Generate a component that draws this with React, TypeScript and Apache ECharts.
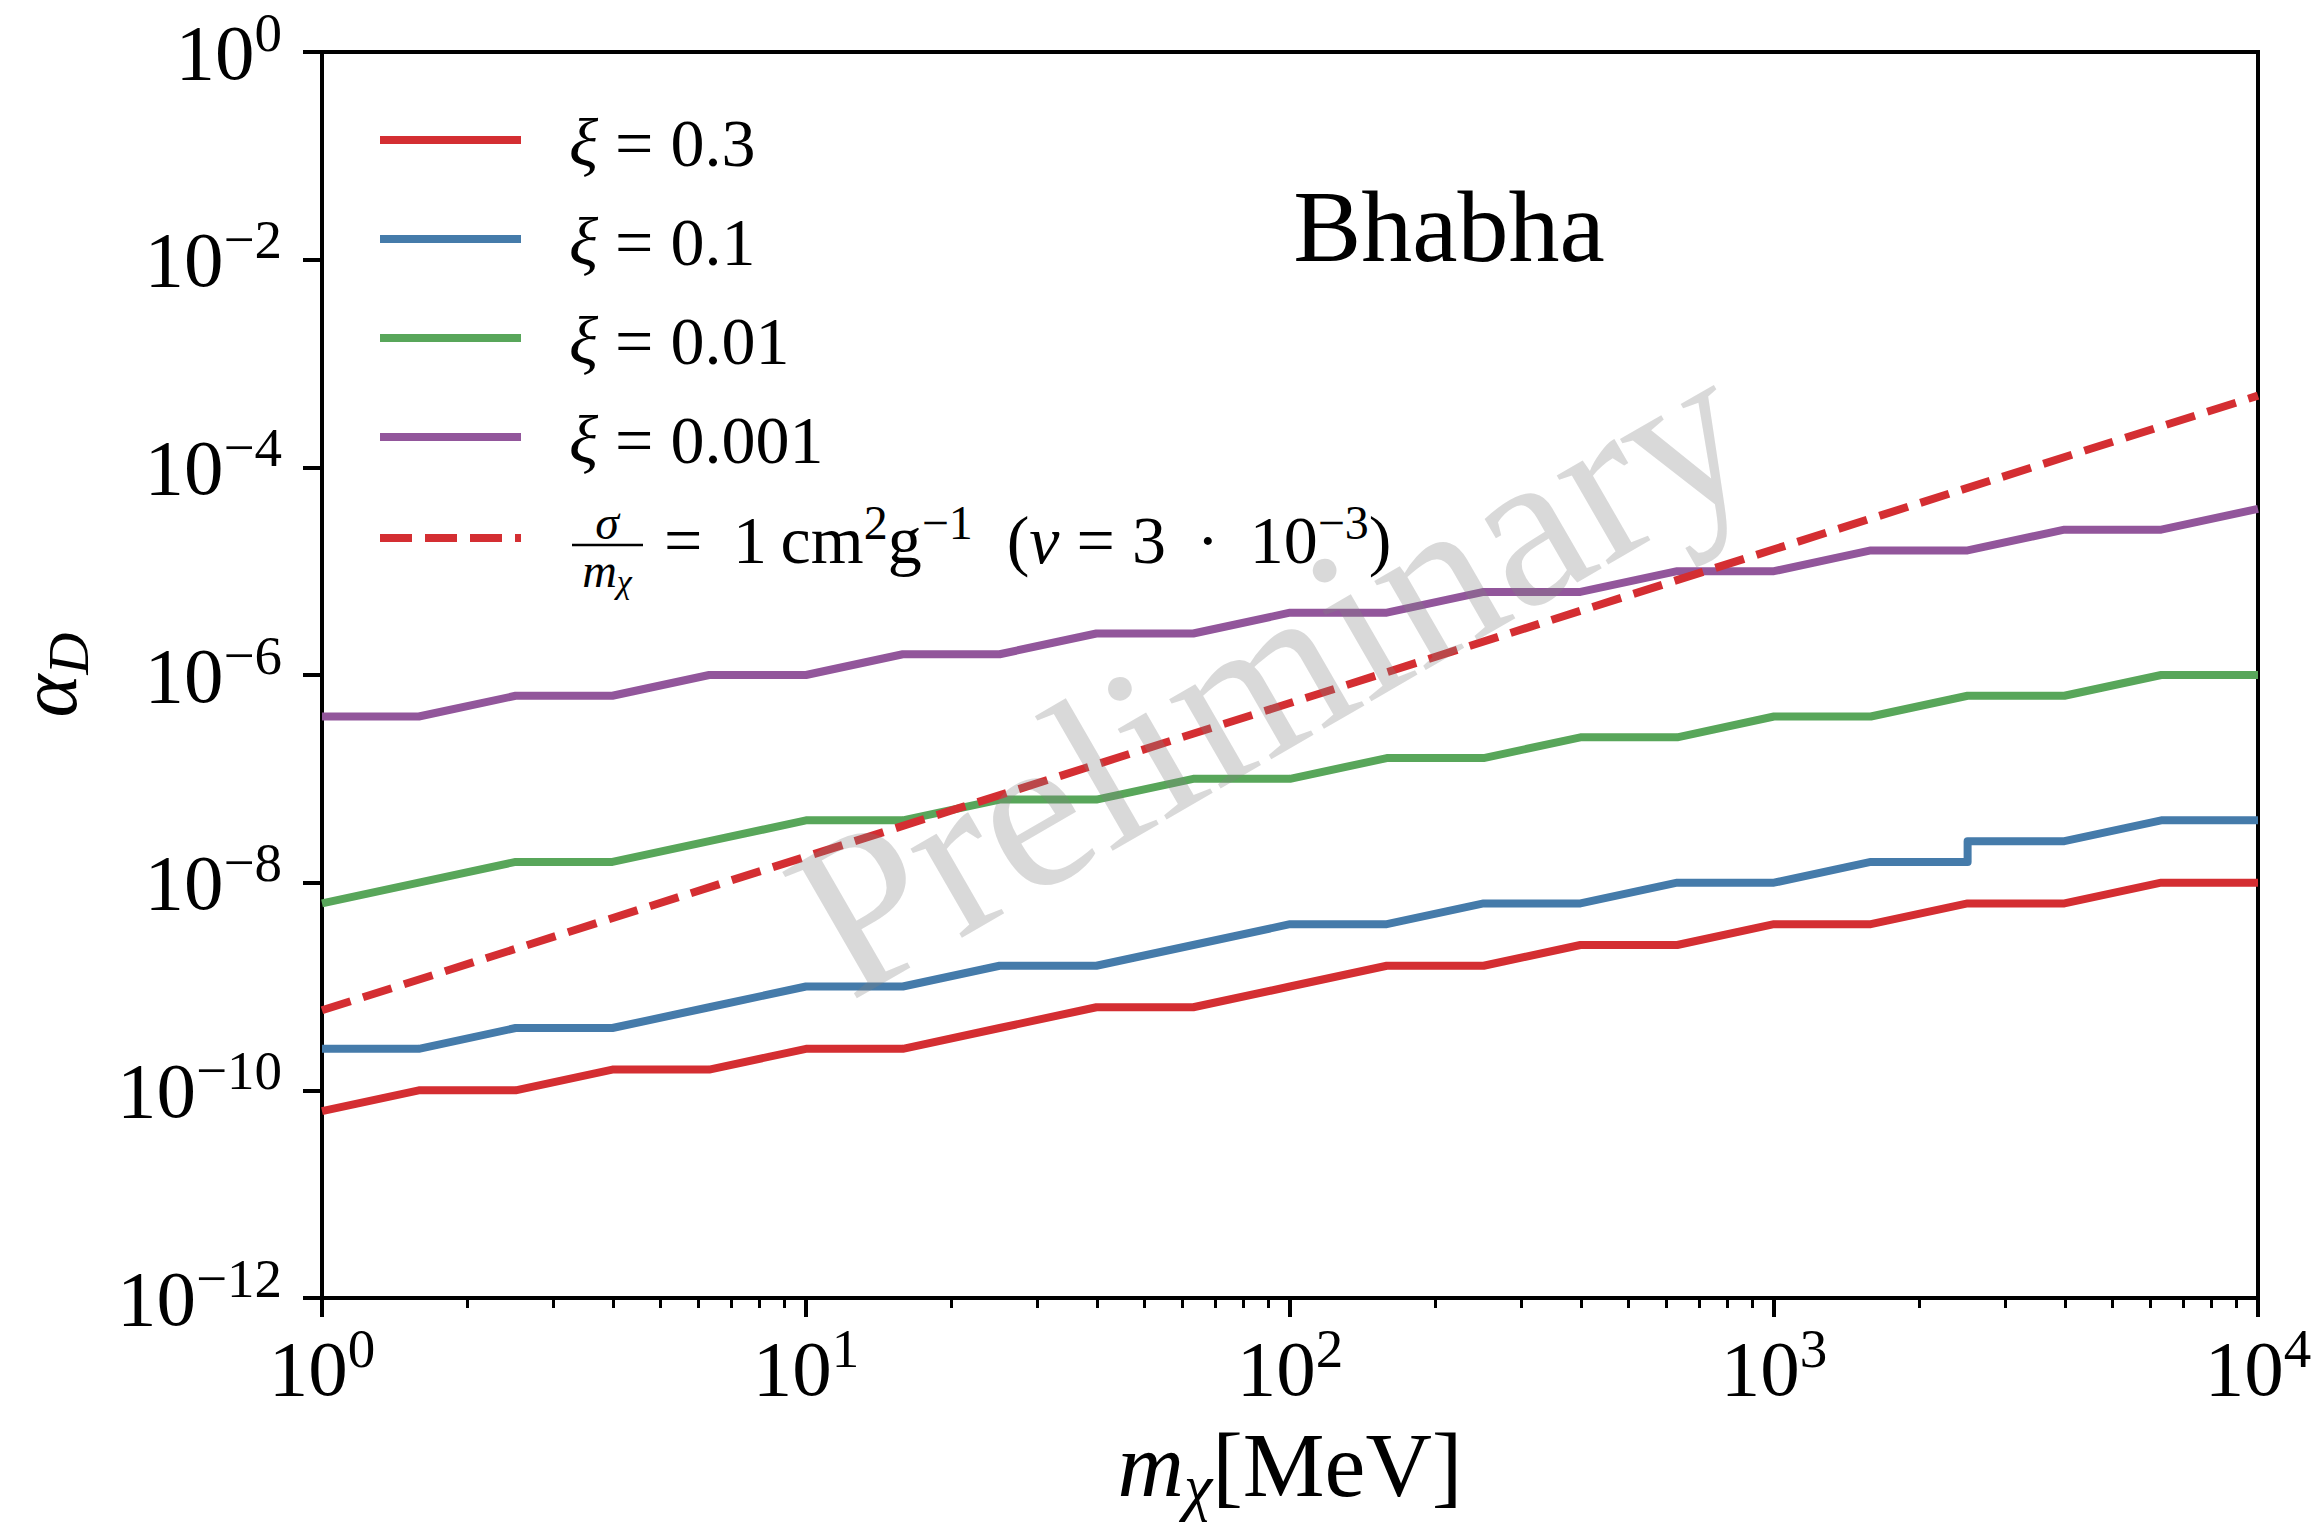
import React, { useEffect, useRef } from "react";
import * as echarts from "echarts";

const FONT = "'Liberation Serif', 'DejaVu Serif', serif";

// Dark-matter mass grid in MeV (five points per decade)
const massMeV = [
  1, 1.585, 2.512, 3.981, 6.31, 10, 15.85, 25.12, 39.81, 63.1, 100, 158.5, 251.2,
  398.1, 631, 1000, 1585, 2512, 3981, 6310, 10000,
];
// The ξ = 0.1 curve jumps at 2512 MeV, so that mass appears twice
const massMeVXi01 = [
  1, 1.585, 2.512, 3.981, 6.31, 10, 15.85, 25.12, 39.81, 63.1, 100, 158.5, 251.2,
  398.1, 631, 1000, 1585, 2512, 2512, 3981, 6310, 10000,
];

// Upper bounds on alpha_D for each temperature ratio ξ
const alphaXi03 = [
  6.31e-11, 1e-10, 1e-10, 1.585e-10, 1.585e-10, 2.512e-10, 2.512e-10, 3.981e-10,
  6.31e-10, 6.31e-10, 1e-9, 1.585e-9, 1.585e-9, 2.512e-9, 2.512e-9, 3.981e-9,
  3.981e-9, 6.31e-9, 6.31e-9, 1e-8, 1e-8,
];
const alphaXi01 = [
  2.512e-10, 2.512e-10, 3.981e-10, 3.981e-10, 6.31e-10, 1e-9, 1e-9, 1.585e-9,
  1.585e-9, 2.512e-9, 3.981e-9, 3.981e-9, 6.31e-9, 6.31e-9, 1e-8, 1e-8, 1.585e-8,
  1.585e-8, 2.512e-8, 2.512e-8, 3.981e-8, 3.981e-8,
];
const alphaXi001 = [
  6.31e-9, 1e-8, 1.585e-8, 1.585e-8, 2.512e-8, 3.981e-8, 3.981e-8, 6.31e-8, 6.31e-8,
  1e-7, 1e-7, 1.585e-7, 1.585e-7, 2.512e-7, 2.512e-7, 3.981e-7, 3.981e-7, 6.31e-7,
  6.31e-7, 1e-6, 1e-6,
];
const alphaXi0001 = [
  3.981e-7, 3.981e-7, 6.31e-7, 6.31e-7, 1e-6, 1e-6, 1.585e-6, 1.585e-6, 2.512e-6,
  2.512e-6, 3.981e-6, 3.981e-6, 6.31e-6, 6.31e-6, 1e-5, 1e-5, 1.585e-5, 1.585e-5,
  2.512e-5, 2.512e-5, 3.981e-5,
];

// σ/m_χ = 1 cm²/g at v = 3·10⁻³ (straight line in log-log)
const selfInteractionMass = [1, 10000];
const selfInteractionAlpha = [5.9e-10, 4.9e-4];

// Tick positions
const xMajorTicks = [1, 10, 100, 1000, 10000];
const xMinorTicks = [
  2, 3, 4, 5, 6, 7, 8, 9, 20, 30, 40, 50, 60, 70, 80, 90, 200, 300, 400, 500, 600,
  700, 800, 900, 2000, 3000, 4000, 5000, 6000, 7000, 8000, 9000,
];
const yMajorTicks = [1e-12, 1e-10, 1e-8, 1e-6, 1e-4, 1e-2, 1];

const xiLabels = ["0.3", "0.1", "0.01", "0.001"];
const colors = ["#d42e32", "#457baa", "#58a65a", "#92569b"];

const GRID = { left: 322, top: 52, width: 1936, height: 1246 };

const powerLabel = (v: number) => {
  const e = Math.round(Math.log10(v));
  const exp = e < 0 ? "\u2212" + Math.abs(e) : String(e);
  return `{b|10}{s|${exp}}`;
};

// exponent sits in a short box pinned to the top of the line
const powerRich = {
  b: { fontSize: 79, lineHeight: 80, fontFamily: FONT, color: "#000" },
  s: { fontSize: 55, height: 40, lineHeight: 40, verticalAlign: "top", fontFamily: FONT, color: "#000" },
};

const pairs = (xs: number[], ys: number[]) => xs.map((x, i) => [x, ys[i]]);

export default function App() {
  const ref = useRef<HTMLDivElement>(null);

  useEffect(() => {
    if (!ref.current) return;
    const chart = echarts.init(ref.current, undefined, { renderer: "svg" });

    const lineSeries = (name: string, data: number[][], color: string, dashed = false) => ({
      name,
      type: "line",
      data,
      showSymbol: false,
      symbol: "none",
      clip: true,
      lineStyle: {
        color,
        width: 8,
        type: dashed ? [30, 13] : "solid",
        cap: "butt",
        join: "round",
      },
      itemStyle: { color },
      z: 3,
    });

    const legendRows = [140, 239, 338, 437];
    const legendX1 = 380;
    const legendX2 = 521;
    const legendTextX = 569;
    const textRich = {
      i: { fontSize: 68, fontStyle: "italic", fontFamily: FONT, lineHeight: 70, color: "#000" },
      t: { fontSize: 68, fontFamily: FONT, lineHeight: 70, color: "#000" },
      s: { fontSize: 48, height: 34, lineHeight: 34, verticalAlign: "top", fontFamily: FONT, color: "#000" },
    };

    const legendGraphics: any[] = [];
    xiLabels.forEach((lab, k) => {
      legendGraphics.push({
        type: "line",
        shape: { x1: legendX1, y1: legendRows[k], x2: legendX2, y2: legendRows[k] },
        style: { stroke: colors[k], lineWidth: 8 },
      });
      legendGraphics.push({
        type: "text",
        x: legendTextX,
        y: legendRows[k] + 3,
        style: {
          text: `{i|ξ}{t| = ${lab}}`,
          rich: textRich,
          align: "left",
          verticalAlign: "middle",
        },
      });
    });
    // dashed self-interaction entry with a stacked fraction
    legendGraphics.push({
      type: "line",
      shape: { x1: legendX1, y1: 538, x2: legendX2, y2: 538 },
      style: { stroke: colors[0], lineWidth: 8, lineDash: [32, 13] },
    });
    legendGraphics.push({
      type: "text",
      x: 607,
      y: 522,
      style: {
        text: "{g|σ}",
        rich: {
          g: { fontSize: 48, fontStyle: "italic", fontFamily: FONT, height: 38, lineHeight: 38, color: "#000" },
        },
        align: "center",
        verticalAlign: "middle",
      },
    });
    legendGraphics.push({
      type: "line",
      shape: { x1: 572, y1: 545, x2: 643, y2: 545 },
      style: { stroke: "#000", lineWidth: 2.5 },
    });
    legendGraphics.push({
      type: "text",
      x: 607,
      y: 570,
      style: {
        text: "{m|m}{c|χ}",
        rich: {
          m: { fontSize: 48, fontStyle: "italic", fontFamily: FONT, height: 40, lineHeight: 40, color: "#000" },
          c: { fontSize: 34, fontStyle: "italic", fontFamily: FONT, height: 18, lineHeight: 18, verticalAlign: "bottom", color: "#000" },
        },
        align: "center",
        verticalAlign: "middle",
      },
    });
    legendGraphics.push({
      type: "text",
      x: 664,
      y: 540,
      style: {
        text:
          "{t|=\u2009 1\u2009cm}{s|2}{t|g}{s|\u22121}{t|  (}{i|v}{t| = 3 \u2009·\u2009 10}{s|\u22123}{t|)}",
        rich: textRich,
        align: "left",
        verticalAlign: "middle",
      },
    });

    chart.setOption({
      animation: false,
      backgroundColor: "#ffffff",
      textStyle: { fontFamily: FONT },
      grid: {
        ...GRID,
        show: true,
        borderColor: "#000",
        borderWidth: 4,
        backgroundColor: "transparent",
        containLabel: false,
        outerBoundsMode: "none",
      },
      legend: { show: false },
      xAxis: [
        {
          type: "log",
          logBase: 10,
          min: 1,
          max: 10000,
          position: "bottom",
          name: "{m|m}{c|χ}{r|[MeV]}",
          nameLocation: "middle",
          nameGap: 117,
          nameMoveOverlap: false,
          nameTextStyle: {
            rich: {
              m: { fontSize: 92, fontStyle: "italic", fontFamily: FONT, lineHeight: 100, color: "#000" },
              c: { fontSize: 64, fontStyle: "italic", fontFamily: FONT, height: 58, lineHeight: 58, verticalAlign: "bottom", color: "#000" },
              r: { fontSize: 92, fontFamily: FONT, lineHeight: 100, color: "#000" },
            },
          },
          axisLine: { show: true, lineStyle: { color: "#000", width: 4 } },
          axisTick: {
            show: true,
            inside: false,
            length: 19,
            customValues: xMajorTicks,
            lineStyle: { color: "#000", width: 4 },
          },
          axisLabel: {
            show: true,
            margin: 30,
            customValues: xMajorTicks,
            formatter: powerLabel,
            rich: powerRich,
            hideOverlap: false,
          },
          splitLine: { show: false },
          minorTick: { show: false },
        },
        {
          type: "log",
          logBase: 10,
          min: 1,
          max: 10000,
          position: "bottom",
          gridIndex: 0,
          axisLine: { show: false },
          axisLabel: { show: false },
          axisTick: {
            show: true,
            inside: false,
            length: 10,
            customValues: xMinorTicks,
            lineStyle: { color: "#000", width: 3 },
          },
          splitLine: { show: false },
        },
      ],
      yAxis: {
        type: "log",
        logBase: 10,
        min: 1e-12,
        max: 1,
        name: "{a|α}{d|D}",
        nameLocation: "middle",
        nameGap: 244,
        nameRotate: 90,
        nameMoveOverlap: false,
        nameTextStyle: {
          rich: {
            a: { fontSize: 82, fontStyle: "italic", fontFamily: FONT, height: 60, lineHeight: 60, color: "#000" },
            d: { fontSize: 58, fontStyle: "italic", fontFamily: FONT, height: 20, lineHeight: 20, verticalAlign: "bottom", color: "#000" },
          },
        },
        axisLine: { show: true, lineStyle: { color: "#000", width: 4 } },
        axisTick: {
          show: true,
          inside: false,
          length: 19,
          customValues: yMajorTicks,
          lineStyle: { color: "#000", width: 4 },
        },
        axisLabel: {
          show: true,
          margin: 40,
          customValues: yMajorTicks,
          formatter: powerLabel,
          rich: powerRich,
          hideOverlap: false,
        },
        splitLine: { show: false },
        minorTick: { show: false },
      },
      series: [
        lineSeries("ξ = 0.3", pairs(massMeV, alphaXi03), colors[0]),
        lineSeries("ξ = 0.1", pairs(massMeVXi01, alphaXi01), colors[1]),
        lineSeries("ξ = 0.01", pairs(massMeV, alphaXi001), colors[2]),
        lineSeries("ξ = 0.001", pairs(massMeV, alphaXi0001), colors[3]),
        lineSeries(
          "σ/mχ = 1 cm²g⁻¹ (v = 3·10⁻³)",
          pairs(selfInteractionMass, selfInteractionAlpha),
          colors[0],
          true
        ),
      ],
      graphic: [
        ...legendGraphics,
        {
          type: "text",
          x: 1449,
          y: 226,
          style: {
            text: "Bhabha",
            font: `102px ${FONT}`,
            fill: "#000",
            align: "center",
            verticalAlign: "middle",
          },
        },
        {
          type: "text",
          x: 1270,
          y: 672,
          rotation: (30 * Math.PI) / 180,
          z: 50,
          style: {
            text: "Preliminary",
            font: `224px ${FONT}`,
            fill: "rgba(128,128,128,0.3)",
            align: "center",
            verticalAlign: "middle",
          },
        },
      ],
    });

    return () => chart.dispose();
  }, []);

  return (
    <div
      ref={ref}
      style={{ position: "absolute", left: 0, top: 0, width: 2320, height: 1530, background: "#fff" }}
    />
  );
}
